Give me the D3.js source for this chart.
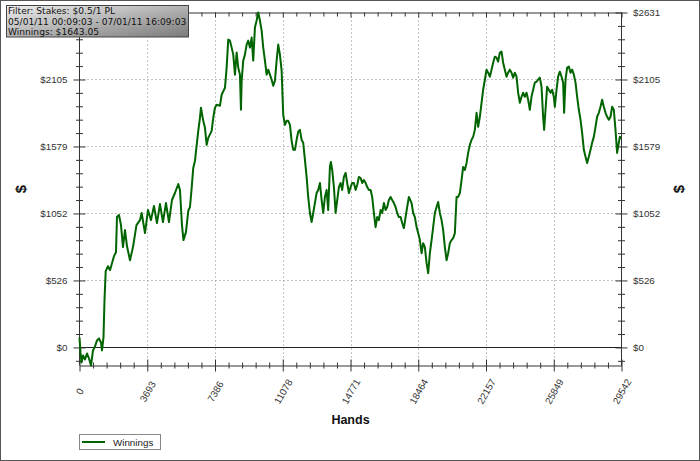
<!DOCTYPE html>
<html><head><meta charset="utf-8">
<script src="https://cdn.jsdelivr.net/npm/d3@7"></script>
<style>body{margin:0;background:#fff}svg{display:block}</style>
</head><body><svg id="c" width="700" height="461"></svg>
<script>
const hands = [0,54,109,191,300,409,518,627,736,845,954,1062,1171,1226,1308,1362,1428,1553,1662,1771,1880,1989,2043,2152,2261,2370,2479,2588,2752,2915,3106,3296,3389,3569,3732,3896,4059,4223,4386,4550,4713,4877,5040,5203,5383,5476,5585,5667,5803,5928,6021,
6113,6200,6293,6473,6566,6620,6745,6838,6931,7018,7203,7290,7383,7476,7655,7748,7928,8020,8108,8200,8293,8380,8473,8565,8652,8745,8800,8838,8925,9017,9110,9197,9290,9382,9470,9562,9655,9742,9835,9927,10015,10107,10200,10287,10380,10472,10560,10652,10745,10832,10924,11017,11104,11197,11290,11377,11470,11562,11649,
11742,11834,11921,12014,12107,12194,12287,12379,12466,12559,12652,12739,12831,12924,13011,13104,13197,13284,13376,13469,13556,13649,13703,13774,13867,13959,14047,14139,14232,14319,14411,14504,14591,14684,14777,14864,14956,15049,15136,15229,15322,15409,15501,15594,15681,15774,15866,15953,16046,16139,16226,16318,16411,16498,16591,16684,16771,16863,16956,17043,17136,17228,17316,17408,17501,17588,17681,17773,17861,17953,
18101,18188,18280,18373,18460,18553,18645,18732,18825,18918,19005,19097,19190,19277,19370,19462,19549,19642,19735,19822,19914,20007,20094,20187,20280,20367,20459,20552,20639,20732,20824,20912,21004,21097,21184,21277,21369,21456,21549,21642,21729,21821,21914,22001,22094,22186,22273,22366,22459,22546,22638,22731,22818,22911,23004,23091,23183,23276,23363,23456,23549,23636,23728,23821,23908,24001,24093,24180,24273,24366,24453,24545,24638,24725,24818,24910,24997,25090,25183,25270,25325,25401,25488,25581,25674,25761,25853,25908,26001,26088,26181,26274,26361,26415,26492,26579,26672,26764,26852,26944,27037,27124,27217,27309,27396,27489,27582,27669,27761,27854,27941,28033,28126,28213,28306,28398,28486,28578,28671,28758,28851,28943,29030,29123,29215,29303,29357,29450,29542];
const winnings = [79,-39,-118,-63,-95,-47,-87,-142,-24,8,55,71,39,-24,79,370,599,638,607,662,717,748,1024,1040,961,788,922,796,685,788,961,1000,1056,898,1079,1000,1111,977,1126,985,1134,985,1158,1213,1284,1237,961,843,906,1072,1103,
1252,1410,1465,1701,1804,1883,1780,1725,1591,1646,1701,1804,1883,1906,1898,1985,2040,2198,2418,2410,2355,2300,2143,2316,2198,2143,1867,2095,2253,2300,2379,2410,2355,2434,2253,2513,2568,2631,2568,2489,2355,2253,2143,2182,2143,2103,2056,2095,2253,2379,2300,2174,1827,1749,1780,1780,1749,1623,1552,
1552,1631,1694,1709,1631,1607,1473,1339,1182,1056,985,1056,1134,1213,1237,1292,1158,1056,1182,1237,1079,1418,1457,1394,1260,1056,1158,1260,1292,1237,1339,1371,1292,1213,1260,1292,1292,1237,1276,1339,1331,1292,1315,1292,1260,1237,1237,1182,1056,945,1024,1000,1079,1056,1134,1079,1103,1158,1182,1158,1134,1103,1056,1024,1024,977,937,1024,1103,1182,
1134,1056,1024,945,898,843,740,819,788,662,583,740,843,945,1056,1103,1142,1056,1000,922,788,685,740,819,843,859,898,1182,1182,1213,1315,1418,1394,1449,1528,1591,1631,1654,1709,1843,1733,1812,1922,2024,2103,2182,2158,2127,2182,2237,2284,2276,2245,2316,2324,2237,2182,2127,2158,2182,2158,2119,2158,2127,2001,1922,1969,2001,1969,2001,1946,1867,1969,2024,2080,2087,2103,2119,2048,1812,1709,1867,2048,2024,2001,2024,1969,1890,2024,2127,2166,2127,2080,1843,2103,2198,2206,2158,2182,2143,2080,1969,1867,1788,1686,1552,1497,1449,1497,1552,1607,1654,1733,1812,1843,1890,1946,1890,1843,1812,1788,1812,1890,1867,1709,1528,1575,1654,1643.05];
const xTickLabels = ["0","3693","7386","11078","14771","18464","22157","25849","29542"];
const yTickLabels = ["$0","$526","$1052","$1579","$2105","$2631"];
const infoLines = ["Filter: Stakes: $0.5/1 PL","05/01/11 00:09:03 - 07/01/11 16:09:03","Winnings: $1643.05"];
const seriesName = "Winnings";
const xTitle = "Hands", yTitle = "$";

const svg = d3.select("#c");
const W = 700, H = 461, L = 79.5, R = 621.5, T = 12.5, B = 365.5;
const FONT = "'Liberation Sans', Arial, sans-serif";
const xMax = d3.max(hands);
const yExt = d3.extent(winnings);
const x = d3.scaleLinear().domain([0, xMax]).range([L, R]);
const y = d3.scaleLinear().domain(yExt).range([B, T]);
const yMax = yExt[1];

svg.append("rect").attr("x",0.5).attr("y",0.5).attr("width",W-1).attr("height",H-1)
  .attr("fill","#fff").attr("stroke","#555");

// grid
const xMaj = d3.range(9).map(i => i*xMax/8);
const yMaj = d3.range(6).map(i => i*yMax/5);
svg.append("g").selectAll("line").data(xMaj.slice(1,8)).join("line")
  .attr("x1",d=>Math.round(x(d))+0.5).attr("x2",d=>Math.round(x(d))+0.5).attr("y1",T).attr("y2",B)
  .attr("stroke","#888").attr("stroke-dasharray","1,3");
svg.append("g").selectAll("line").data(yMaj.slice(1,5)).join("line")
  .attr("y1",d=>Math.round(y(d))+0.5).attr("y2",d=>Math.round(y(d))+0.5).attr("x1",L).attr("x2",R)
  .attr("stroke","#888").attr("stroke-dasharray","1,3");
svg.append("line").attr("x1",L).attr("x2",R).attr("y1",Math.round(y(0))+0.5).attr("y2",Math.round(y(0))+0.5)
  .attr("stroke","#222").attr("stroke-width",1);

// axes
const xAll = d3.range(41).map(i => i*xMax/40);
const yAll = d3.range(-1,26).map(i => i*yMax/25);
const axColor = "#333";
function styleAxis(g){
  g.select(".domain").attr("stroke",axColor);
  g.selectAll(".tick text").attr("fill","#333").style("font-family",FONT).style("font-size","9.8px");
}
const gx = svg.append("g").attr("transform",`translate(0,${B})`)
  .call(d3.axisBottom(x).tickValues(xAll).tickSizeOuter(0)
    .tickFormat((d,i)=> i%5===0 ? xTickLabels[i/5] : ""));
styleAxis(gx);
gx.selectAll(".tick line").attr("stroke",axColor)
  .attr("y1",(d,i)=> i%5===0 ? -6 : -3).attr("y2",(d,i)=> i%5===0 ? 6 : 3);
gx.selectAll(".tick text").attr("y",0).attr("dy","0.35em").attr("text-anchor","middle")
  .attr("transform","translate(0,26) rotate(-60)");

const gt = svg.append("g").attr("transform",`translate(0,${T})`)
  .call(d3.axisTop(x).tickValues(xAll).tickSizeOuter(0).tickFormat(""));
styleAxis(gt);
gt.selectAll(".tick line").attr("stroke",axColor).attr("y1",0).attr("y2",(d,i)=> i%5===0 ? 5 : 4);

const isMajY = i => (i-1)%5===0 && i>0;
const gl = svg.append("g").attr("transform",`translate(${L},0)`)
  .call(d3.axisLeft(y).tickValues(yAll).tickSizeOuter(0)
    .tickFormat((d,i)=> isMajY(i) && i < yAll.length-1 ? yTickLabels[(i-1)/5] : ""));
styleAxis(gl);
gl.selectAll(".tick line").attr("stroke",axColor)
  .attr("x1",(d,i)=> isMajY(i) ? -6 : -3.5).attr("x2",(d,i)=> isMajY(i) ? 6 : 3.5);
gl.selectAll(".tick text").attr("x",-12);

const gr = svg.append("g").attr("transform",`translate(${R},0)`)
  .call(d3.axisRight(y).tickValues(yAll).tickSizeOuter(0)
    .tickFormat((d,i)=> isMajY(i) ? yTickLabels[(i-1)/5] : ""));
styleAxis(gr);
gr.selectAll(".tick line").attr("stroke",axColor)
  .attr("x1",(d,i)=> isMajY(i) ? -6 : -3.5).attr("x2",(d,i)=> isMajY(i) ? 6 : 3.5);
gr.selectAll(".tick text").attr("x",11.5);
[gl,gr].forEach(g=>g.select(".domain").attr("d", `M0,${T}V${B}`));

// line
const pts = d3.zip(hands, winnings);
svg.append("path").datum(pts)
  .attr("d", d3.line().x(d=>x(d[0])).y(d=>y(d[1])))
  .attr("fill","none").attr("stroke","#006400").attr("stroke-width",2).attr("stroke-linejoin","round");

// titles
svg.append("text").attr("x",350.5).attr("y",424).attr("text-anchor","middle")
  .style("font-family",FONT).style("font-weight","bold").style("font-size","12.5px").attr("fill","#111").text(xTitle);
[[21,189],[679,189]].forEach(([cx,cy])=>{
  svg.append("text").attr("transform",`translate(${cx},${cy}) rotate(-90)`).attr("text-anchor","middle").attr("dy","0.35em")
    .style("font-family",FONT).style("font-weight","bold").style("font-size","15px").attr("fill","#111").text(yTitle);
});

// legend
const lg = svg.append("g");
lg.append("rect").attr("x",79.5).attr("y",434.5).attr("width",81).attr("height",15).attr("fill","#fff").attr("stroke","#888");
lg.append("line").attr("x1",82).attr("x2",105).attr("y1",442).attr("y2",442).attr("stroke","#006400").attr("stroke-width",2);
lg.append("text").attr("x",113).attr("y",445.5).style("font-family",FONT).style("font-size","9.8px").attr("fill","#222").text(seriesName);

// info box
const defs = svg.append("defs");
const gr1 = defs.append("linearGradient").attr("id","ib").attr("x1","0").attr("y1","0").attr("x2","1").attr("y2","1");
gr1.append("stop").attr("offset","0").attr("stop-color","#eeeeee");
gr1.append("stop").attr("offset","1").attr("stop-color","#7a7a7a");
svg.append("rect").attr("x",6.5).attr("y",5.5).attr("width",182).attr("height",31.5).attr("fill","url(#ib)").attr("stroke","#444");
svg.append("g").selectAll("text").data(infoLines).join("text")
  .attr("x",8).attr("y",(d,i)=>14.3+i*10.3)
  .style("font-family","'DejaVu Sans', Verdana, sans-serif").style("font-size","9.1px").attr("fill","#111").text(d=>d);
</script></body></html>
